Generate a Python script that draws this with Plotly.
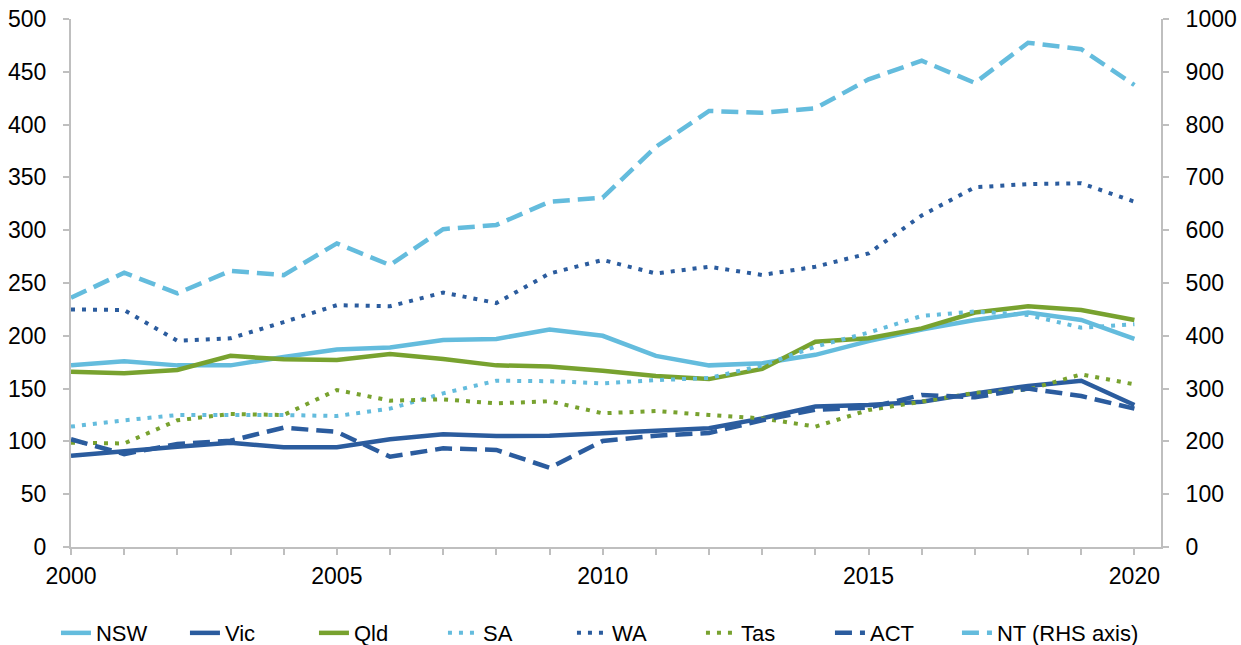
import plotly.graph_objects as go

years = list(range(2000, 2021))

nsw = [172, 176, 172, 172, 180, 187, 189, 196, 197, 206, 200, 181, 172, 174, 182, 195, 206, 215, 222, 215, 197]
vic = [86.5, 91, 95, 98.8, 94.4, 94.4, 102, 106.7, 105, 105.4, 107.6, 110, 112.4, 121.8, 133, 134.5, 137.6, 145.5, 152.5, 157.5, 134.5]
qld = [166, 164.5, 167.6, 181, 177.7, 177, 182.8, 178, 172, 171, 167, 162, 159, 168.6, 194.4, 197.6, 207, 222, 228, 224.4, 215]
sa = [114, 120, 125, 125, 125, 124, 131, 145.5, 157.5, 157, 155, 158, 160, 172, 189.7, 203, 218.8, 223, 219.7, 207.7, 211]
wa = [225, 224.4, 195.4, 197.6, 213, 229, 228, 241, 231, 259, 271.8, 259, 265.4, 257.6, 265.4, 278, 314, 340.6, 343.7, 344.4, 327]
tas = [98.8, 98, 120, 126, 125, 148.7, 138.6, 139.8, 136, 138, 126.6, 128.8, 125, 121.8, 114, 129.7, 137.6, 146, 149, 163.5, 154]
act = [102, 88, 97.5, 100.7, 113, 109, 85.5, 93.4, 91.9, 75, 100.4, 105.4, 108, 120, 130, 132, 144, 141.7, 150, 143, 131]
nt = [472, 519.5, 480.5, 523, 515, 575, 534, 602, 610, 654, 661.6, 758, 825.8, 822.5, 830.8, 885.8, 921, 879, 955, 942.7, 875]

LIGHT = "#64BCDD"
DARK = "#2B5C9E"
GREEN = "#78A22F"

series = [
    ("NSW", nsw, LIGHT, "solid", 4.5, "y", "legend"),
    ("Vic", vic, DARK, "solid", 4.5, "y", "legend"),
    ("Qld", qld, GREEN, "solid", 4.5, "y", "legend"),
    ("SA", sa, LIGHT, "4px,7px", 4, "y", "legend"),
    ("WA", wa, DARK, "4px,7px", 4, "y", "legend"),
    ("Tas", tas, GREEN, "4px,7px", 4, "y", "legend"),
    ("ACT", act, DARK, "17px,8px", 4.5, "y", "legend"),
    ("NT (RHS axis)", nt, LIGHT, "17px,8px", 4.5, "y2", "legend2"),
]

fig = go.Figure()
for name, vals, color, dash, w, ax, lg in series:
    fig.add_trace(go.Scatter(
        x=years, y=vals, name=name, mode="lines", yaxis=ax, legend=lg,
        line=dict(color=color, width=w, dash=dash),
    ))

axis_color = "#BFBFBF"
FONT = "Liberation Sans, Arial, sans-serif"
tick_font = dict(family=FONT, size=23, color="#000000")
legend_font = dict(family=FONT, size=22, color="#000000")

fig.update_layout(
    width=1241, height=645,
    margin=dict(l=71, r=80, t=19, b=98, autoexpand=False),
    paper_bgcolor="white", plot_bgcolor="white",
    font=tick_font,
    showlegend=True,
    legend=dict(orientation="h", x=-0.0138, xanchor="left", y=-0.163, yanchor="middle",
                font=legend_font, entrywidth=84, entrywidthmode="pixels",
                traceorder="normal"),
    legend2=dict(orientation="h", x=0.8128, xanchor="left", y=-0.163, yanchor="middle",
                 font=legend_font),
    xaxis=dict(
        range=[2000, 2020.5], tickmode="array", tickvals=[2000, 2005, 2010, 2015, 2020],
        ticktext=["2000", "2005", "2010", "2015", "2020"],
        showgrid=False, zeroline=False, showline=True, linecolor=axis_color, linewidth=2,
        ticks="outside", ticklen=6, tickcolor=axis_color, tickwidth=2,
        ticklabelstandoff=1,
        minor=dict(tickmode="array", tickvals=years, ticks="outside", ticklen=6,
                   tickcolor=axis_color, tickwidth=2, showgrid=False),
        tickfont=tick_font,
    ),
    yaxis=dict(
        range=[0, 500], dtick=50, showgrid=False, zeroline=False,
        showline=True, linecolor=axis_color, linewidth=2,
        ticks="outside", ticklen=6, tickcolor=axis_color, tickwidth=2,
        ticklabelstandoff=12,
        tickfont=tick_font,
    ),
    yaxis2=dict(
        range=[0, 1000], dtick=100, overlaying="y", side="right", anchor="x",
        showgrid=False, zeroline=False, showline=True, linecolor=axis_color, linewidth=2,
        ticks="outside", ticklen=6, tickcolor=axis_color, tickwidth=2,
        ticklabelstandoff=12,
        tickfont=tick_font,
    ),
)

fig.write_html("out.html", config={"displayModeBar": False},
               post_script="document.body.style.margin='0';document.body.style.overflow='hidden';")
